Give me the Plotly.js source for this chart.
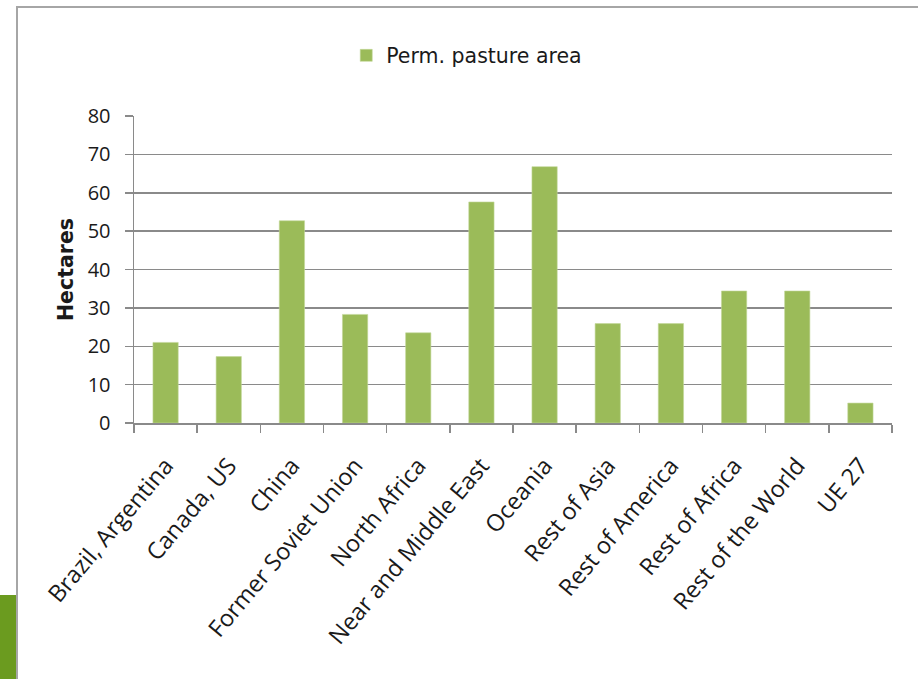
<!DOCTYPE html>
<html>
<head>
<meta charset="utf-8">
<script src="https://cdn.plot.ly/plotly-3.0.1.min.js"></script>
<style>
  html, body { margin: 0; padding: 0; background: #ffffff; }
  body { width: 918px; height: 679px; position: relative; overflow: hidden; }
  #frame {
    position: absolute; left: 16px; top: 6px; right: -4px; bottom: -4px;
    border-top: 2px solid #a6a6a6; border-left: 2px solid #a6a6a6;
  }
  #accent { position: absolute; left: 0; top: 595px; width: 16px; height: 84px; background: #6b9b1f; }
  #chart { position: absolute; left: 0; top: 0; width: 918px; height: 679px; }
</style>
</head>
<body>
<div id="chart"></div>
<div id="frame"></div>
<div id="accent"></div>
<script>
// Permanent pasture area by region (hectares)
const regions = [
  "Brazil, Argentina", "Canada, US", "China", "Former Soviet Union",
  "North Africa", "Near and Middle East", "Oceania", "Rest of Asia",
  "Rest of America", "Rest of Africa", "Rest of the World", "UE 27"
];
const pastureArea = [21, 17.3, 52.7, 28.3, 23.5, 57.6, 66.8, 25.9, 25.9, 34.4, 34.4, 5.2];
const seriesName = "Perm. pasture area";
const yTicks = [0, 10, 20, 30, 40, 50, 60, 70, 80];

const trace = {
  type: "bar",
  x: regions,
  y: pastureArea,
  name: seriesName,
  showlegend: true,
  marker: { color: "#9bbb59", line: { color: "#c3d69b", width: 0.6 } }
};

const layout = {
  width: 918,
  height: 679,
  margin: { l: 134, r: 26, t: 116, b: 256, pad: 0 },
  paper_bgcolor: "#ffffff",
  plot_bgcolor: "#ffffff",
  bargap: 0.6,
  showlegend: true,
  legend: {
    orientation: "h",
    x: 0.28, xanchor: "left",
    y: 1.197, yanchor: "middle",
    font: { family: "'DejaVu Sans', sans-serif", size: 20.5, color: "#1a1a1a" },
    bgcolor: "rgba(0,0,0,0)"
  },
  xaxis: {
    type: "category",
    tickangle: -50,
    ticks: "outside",
    ticklen: 8,
    tickcolor: "#8a8a8a",
    tickwidth: 1.5,
    tickson: "boundaries",
    showline: true,
    linecolor: "#8a8a8a",
    linewidth: 1.5,
    showgrid: false,
    ticklabelstandoff: 18,
    tickfont: { family: "'Open Sans', sans-serif", size: 23.5, color: "#1a1a1a" },
    automargin: false
  },
  yaxis: {
    range: [0, 80],
    tickvals: yTicks,
    ticktext: yTicks.map(String),
    ticks: "outside",
    ticklen: 8,
    tickcolor: "#8a8a8a",
    tickwidth: 1.5,
    showline: true,
    linecolor: "#8a8a8a",
    linewidth: 1.5,
    showgrid: true,
    gridcolor: "#8a8a8a",
    gridwidth: 1.5,
    zeroline: false,
    ticklabelstandoff: 10,
    tickfont: { family: "'Open Sans', sans-serif", size: 20, color: "#1a1a1a" },
    automargin: false,
    title: {
      text: "<b>Hectares</b>",
      font: { family: "'DejaVu Sans', sans-serif", size: 20.5, color: "#1a1a1a" },
      standoff: 8
    }
  }
};

Plotly.newPlot("chart", [trace], layout, { displayModeBar: false, staticPlot: true });
</script>
</body>
</html>
